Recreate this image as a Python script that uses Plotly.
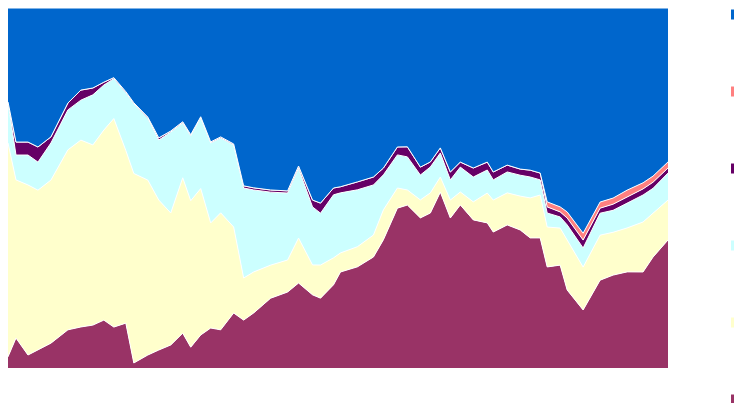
import plotly.graph_objects as go

# x positions (day index) of samples
days = [0, 8, 20, 30, 43, 60, 73, 85, 96, 106, 118, 126, 140, 151, 163, 175, 183, 193, 203, 213,
        226, 236, 246, 263, 280, 291, 305, 313, 326, 333, 350, 366, 376, 390, 400, 413, 423, 433, 443, 453,
        466, 480, 486, 500, 513, 523, 533, 540, 553, 560, 576, 593, 606, 620, 636, 646, 661]

series_names = ["Series F", "Series E", "Series D", "Series C", "Series B", "Series A"]

maroon = [3.1, 8.3, 3.6, 5.0, 6.9, 10.6, 11.4, 11.9, 13.3, 11.4, 12.5, 1.4, 3.6, 5.0, 6.4, 9.7, 5.8, 9.2, 11.1, 10.6,
          15.3, 13.3, 15.3, 19.4, 21.1, 23.6, 20.3, 19.4, 23.1, 26.7, 28.1, 30.8, 35.6, 44.4, 45.3, 41.7, 43.1, 48.9, 41.7, 45.3,
          41.1, 40.3, 37.8, 39.7, 38.3, 36.1, 36.1, 28.1, 28.6, 21.7, 16.1, 24.4, 25.8, 26.7, 26.7, 30.8, 35.6]
yellow = [59.4, 43.9, 47.2, 44.4, 45.3, 50.0, 51.9, 50.0, 52.8, 58.1, 48.1, 52.8, 48.6, 41.7, 36.7, 43.3, 40.8, 40.8, 29.2, 32.5,
          23.9, 11.7, 11.4, 9.2, 8.9, 12.5, 8.3, 9.2, 7.5, 5.3, 5.6, 6.1, 8.3, 5.6, 4.2, 5.0, 5.6, 4.2, 5.0, 3.6,
          5.0, 8.3, 8.9, 8.9, 9.4, 11.1, 11.9, 11.1, 10.3, 13.9, 11.9, 12.5, 11.9, 12.2, 13.9, 12.2, 11.1]
cyan = [11.4, 6.9, 8.3, 7.8, 10.3, 11.1, 11.1, 13.9, 12.5, 11.1, 16.1, 19.4, 17.2, 16.7, 22.5, 15.3, 18.1, 19.7, 22.2, 20.8,
        22.8, 25.0, 22.8, 20.3, 18.6, 19.4, 16.1, 14.4, 17.5, 16.7, 15.8, 13.9, 9.7, 9.2, 9.2, 6.9, 7.2, 6.7, 5.6, 6.9,
        6.9, 6.4, 5.6, 5.8, 5.8, 5.8, 4.2, 3.9, 3.1, 4.2, 5.3, 6.1, 6.1, 6.9, 7.5, 6.9, 7.5]
purple = [0.0, 3.6, 3.6, 4.2, 1.7, 1.9, 2.8, 1.9, 0.8, 0.3, 0.3, 0.3, 0.3, 0.6, 0.3, 0.3, 0.3, 0.3, 0.3, 0.3,
          0.3, 0.6, 0.6, 0.6, 0.6, 0.6, 1.9, 2.8, 1.9, 1.7, 2.2, 2.2, 1.9, 2.2, 2.8, 2.2, 1.4, 1.4, 2.2, 1.4,
          2.5, 2.2, 2.2, 1.9, 1.7, 1.9, 1.9, 1.7, 1.4, 1.9, 2.2, 1.4, 1.7, 1.7, 1.7, 1.7, 1.4]
salmon = [0.0] * 47 + [1.4, 1.4, 1.7, 1.9, 1.7, 1.7, 1.9, 1.7, 1.7, 1.7]
blue = [26.1, 37.2, 37.2, 38.6, 35.8, 26.4, 22.8, 22.2, 20.6, 19.4, 23.3, 26.4, 30.3, 36.1, 34.2, 31.7, 35.3, 30.3, 37.2, 35.8,
        37.8, 49.4, 50.0, 50.6, 50.8, 43.9, 53.3, 54.2, 50.0, 49.7, 48.3, 46.9, 44.4, 38.6, 38.6, 44.2, 42.8, 38.9, 45.6, 42.8,
        44.4, 42.8, 45.6, 43.6, 44.7, 45.0, 45.8, 53.9, 55.3, 56.7, 62.5, 53.9, 52.8, 50.6, 48.6, 46.7, 42.8]

colors = ["#993366", "#FFFFCC", "#CCFFFF", "#660066", "#FF8080", "#0066CC"]
values = [maroon, yellow, cyan, purple, salmon, blue]

fig = go.Figure()
n = len(series_names)
for i, (name, vals, col) in enumerate(zip(series_names, values, colors)):
    fig.add_trace(go.Scatter(
        x=days, y=vals, name=name, mode="lines",
        stackgroup="one", groupnorm="percent",
        line=dict(color="white", width=1),
        fillcolor=col, legendgroup=name, showlegend=False,
    ))
    # legend swatch (square key) for the series
    fig.add_trace(go.Scatter(
        x=[None], y=[None], name=name, mode="markers",
        marker=dict(symbol="square", size=10, color=col, line=dict(width=0)),
        legendgroup=name, legendrank=n - i, showlegend=True,
    ))

fig.update_layout(
    width=734, height=395,
    margin=dict(l=0, r=74, t=0, b=35, autoexpand=False),
    paper_bgcolor="white", plot_bgcolor="white",
    showlegend=True,
    legend=dict(
        xref="container", yref="paper",
        x=0.9646, y=1.0222, xanchor="left", yanchor="top",
        traceorder="grouped", tracegroupgap=58, maxheight=1000,
        font=dict(family="Liberation Sans", size=12, color="#000000"),
        bgcolor="rgba(0,0,0,0)",
    ),
    xaxis=dict(range=[0, 661], showgrid=False, zeroline=False, showticklabels=False, ticks=""),
    yaxis=dict(range=[0, 100], showgrid=False, zeroline=False, showticklabels=False, ticks=""),
)

fig.write_html("out.html")
